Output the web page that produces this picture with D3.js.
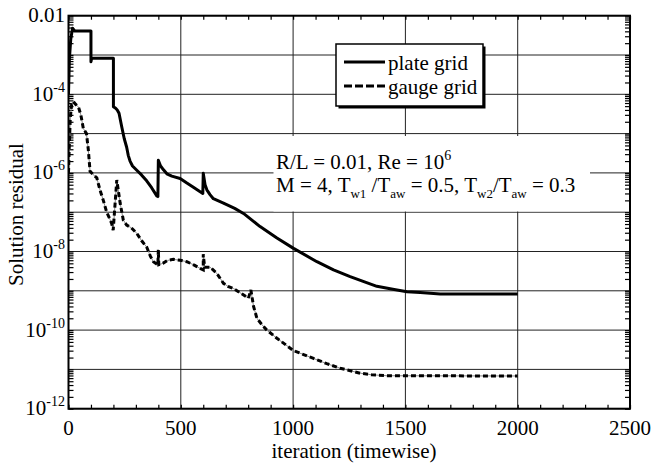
<!DOCTYPE html>
<html><head><meta charset="utf-8">
<script src="https://cdn.jsdelivr.net/npm/d3@7"></script>
<style>
body{margin:0;background:#fff}
text{font-family:"Liberation Serif","Times New Roman",serif;fill:#000}
</style>
</head><body>
<svg id="c" width="654" height="468"></svg>
<script>
// ---- data ----
const plateIter=[0,4,10,18,28,100,100,103,200,200,210,217,225,237,248,259,266,274,285,304,325,348,370,393,398,400,410,423,438,460,497,527,556,598,600,608,616,630,645,690,740,779,853,928,1002,1106,1180,1254,1373,1450,1507,1566,1655,2000];
const plateRes=[1e-4,8e-4,2.5e-3,4.8e-3,4.1e-3,4.1e-3,6.7e-4,8.3e-4,8.3e-4,4.8e-5,4.4e-5,4.0e-5,3.3e-5,1.5e-5,7.5e-6,4.5e-6,2.8e-6,2.0e-6,1.5e-6,1.17e-6,8.9e-7,6.3e-7,4.2e-7,2.6e-7,2.5e-7,2.1e-6,1.5e-6,1.2e-6,9.5e-7,8.3e-7,7.2e-7,5.5e-7,4.3e-7,3.0e-7,9.8e-7,5.0e-7,3.7e-7,2.8e-7,2.2e-7,1.7e-7,1.25e-7,9.3e-8,4.3e-8,2.2e-8,1.2e-8,5.5e-9,3.4e-9,2.3e-9,1.3e-9,1.08e-9,9.5e-10,9.0e-10,8.3e-10,8.3e-10];
const gaugeIter=[0,3,8,14,22,32,44,55,66,80,88,96,110,126,140,155,170,185,192,199,215,230,244,259,280,304,325,348,365,378,398,400,402,420,440,467,497,527,560,586,600,600,606,630,660,690,710,734,770,801,812,824,839,860,883,928,1002,1091,1150,1210,1299,1350,1418,2000];
const gaugeRes=[1e-6,4e-6,2.5e-5,5.5e-5,6.5e-5,5.5e-5,4.8e-5,3e-5,1.35e-5,1.0e-5,4e-6,1.1e-6,9e-7,7.5e-7,3.7e-7,2.0e-7,1.0e-7,6.5e-8,5.2e-8,3.5e-8,6.6e-7,1.7e-7,6.3e-8,4.7e-8,4.0e-8,2.9e-8,1.9e-8,1.3e-8,7.5e-9,5.5e-9,4.6e-9,1.1e-8,4.6e-9,5.0e-9,5.9e-9,6.3e-9,6.0e-9,5.5e-9,4.5e-9,3.7e-9,3.4e-9,8.5e-9,4.0e-9,4.0e-9,2.8e-9,1.55e-9,1.3e-9,1.15e-9,8.5e-10,6.5e-10,1.05e-9,4e-10,2e-10,1.4e-10,1e-10,6.2e-11,3e-11,1.9e-11,1.4e-11,1.07e-11,8e-12,7.3e-12,6.9e-12,6.8e-12];
const xTickValues=[0,500,1000,1500,2000,2500];
const yLabelValues=[1e-12,1e-10,1e-8,1e-6,1e-4,1e-2];
const yLabelBase=["10","10","10","10","10","0.01"];
const yLabelExp=["-12","-10","-8","-6","-4",""];
const seriesNames=["plate grid","gauge grid"];

// ---- layout ----
const L=68.5,R=630,T=15.7,B=408.7;
const svg=d3.select("#c");
const x=d3.scaleLinear().domain([0,2500]).range([L,R]);
const y=d3.scaleLog().domain([1e-12,1e-2]).range([B,T]);

// grid lines
const g=svg.append("g");
const decades=y.ticks(20).filter(v=>Math.abs(Math.log10(v)-Math.round(Math.log10(v)))<1e-9);
g.selectAll("line.hg").data(decades).join("line")
 .attr("x1",L).attr("x2",R).attr("y1",d=>y(d)).attr("y2",d=>y(d))
 .attr("stroke","#222").attr("stroke-width",1);
g.selectAll("line.vg").data(xTickValues).join("line")
 .attr("y1",T).attr("y2",B).attr("x1",d=>x(d)).attr("x2",d=>x(d))
 .attr("stroke","#222").attr("stroke-width",1);

// annotation background box
svg.append("rect").attr("x",273.5).attr("y",136).attr("width",316.5).attr("height",75.5).attr("fill","#fff");

// axes ticks (inward)
const minorY=y.ticks(20);
const axL=d3.axisLeft(y).tickValues(minorY).tickSizeInner(-5).tickSizeOuter(0).tickFormat("");
const axR=d3.axisRight(y).tickValues(minorY).tickSizeInner(-5).tickSizeOuter(0).tickFormat("");
const xMinor=d3.range(0,2501,100);
const axB=d3.axisBottom(x).tickValues(xMinor).tickSizeInner(-4).tickSizeOuter(0).tickFormat("");
const axT=d3.axisTop(x).tickValues(xMinor).tickSizeInner(-4).tickSizeOuter(0).tickFormat("");
[[axL,`translate(${L},0)`],[axR,`translate(${R},0)`],[axB,`translate(0,${B})`],[axT,`translate(0,${T})`]].forEach(([a,t])=>{
  const ga=svg.append("g").attr("transform",t).call(a);
  ga.select(".domain").remove();
  ga.selectAll("line").attr("stroke","#000").attr("stroke-width",1.2);
});

// curves
svg.append("clipPath").attr("id","clip").append("rect").attr("x",L).attr("y",T).attr("width",R-L).attr("height",B-T);
const line=d3.line().x(d=>x(d[0])).y(d=>y(d[1]));
const plate=plateIter.map((v,i)=>[v,plateRes[i]]);
const gauge=gaugeIter.map((v,i)=>[v,gaugeRes[i]]);
const cg=svg.append("g").attr("clip-path","url(#clip)");
cg.append("path").attr("d",line(gauge)).attr("fill","none").attr("stroke","#888").attr("stroke-width",1);
cg.append("path").attr("d",line(gauge)).attr("fill","none").attr("stroke","#000").attr("stroke-width",3).attr("stroke-dasharray","5,3");
cg.append("path").attr("d",line(plate)).attr("fill","none").attr("stroke","#000").attr("stroke-width",3).attr("stroke-linejoin","round");

// frame
svg.append("rect").attr("x",L).attr("y",T).attr("width",R-L).attr("height",B-T).attr("fill","none").attr("stroke","#000").attr("stroke-width",2);

// y tick labels
yLabelValues.forEach((v,i)=>{
  const t=svg.append("text").attr("x",65).attr("y",y(v)+6.5).attr("text-anchor","end").style("font-size","21px");
  t.append("tspan").text(yLabelBase[i]);
  if(yLabelExp[i]) t.append("tspan").attr("dy",-9).style("font-size","14px").text(yLabelExp[i]);
});
// x tick labels
svg.selectAll("text.xl").data(xTickValues).join("text")
 .attr("x",d=>x(d)).attr("y",435).attr("text-anchor","middle").style("font-size","21px").text(d=>d);

// axis titles
svg.append("text").attr("x",354).attr("y",458).attr("text-anchor","middle").style("font-size","21px").text("iteration (timewise)");
svg.append("text").attr("transform","translate(23,214.5) rotate(-90)").attr("text-anchor","middle").style("font-size","21px").text("Solution residual");

// legend
svg.append("rect").attr("x",338.5).attr("y",46.5).attr("width",147).attr("height",62).attr("fill","#000");
svg.append("rect").attr("x",336).attr("y",44).attr("width",147).attr("height",62).attr("fill","#fff").attr("stroke","#000").attr("stroke-width",1.5);
svg.append("line").attr("x1",344).attr("x2",385).attr("y1",62).attr("y2",62).attr("stroke","#000").attr("stroke-width",3);
svg.append("line").attr("x1",344).attr("x2",385).attr("y1",86).attr("y2",86).attr("stroke","#000").attr("stroke-width",3).attr("stroke-dasharray","8,3");
svg.append("text").attr("x",388).attr("y",70).style("font-size","21px").text(seriesNames[0]);
svg.append("text").attr("x",388).attr("y",93.5).style("font-size","21px").text(seriesNames[1]);

// annotation
const a1=svg.append("text").attr("x",276).attr("y",168.5).style("font-size","21px");
a1.append("tspan").text("R/L = 0.01, Re = 10");
a1.append("tspan").attr("dy",-9).style("font-size","14px").text("6");
const a2=svg.append("text").attr("x",276).attr("y",192).style("font-size","21px");
const parts=[["M = 4, T",0],["w1",1],[" /T",0],["aw",1],[" = 0.5, T",0],["w2",1],["/T",0],["aw",1],[" = 0.3",0]];
let cur=0;
parts.forEach(([s,sub])=>{
  const dy=(sub?6:0)-cur; cur=sub?6:0;
  const ts=a2.append("tspan").attr("dy",dy).text(s);
  if(sub) ts.style("font-size","13px");
});
</script>
</body></html>
